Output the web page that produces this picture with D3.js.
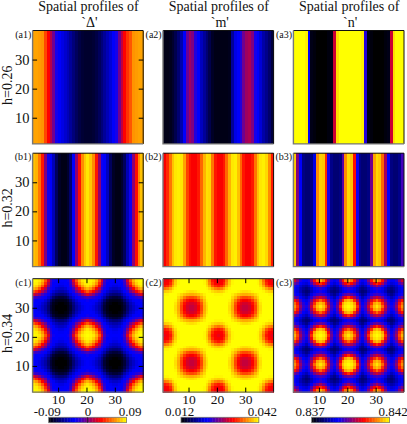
<!DOCTYPE html>
<html>
<head>
<meta charset="utf-8">
<script src="https://cdn.jsdelivr.net/npm/d3@7"></script>
<style>
html, body { margin: 0; background: #fff; }
svg { display: block; }
text { font-family: "Liberation Serif", "Times New Roman", serif; fill: #111; }
</style>
</head>
<body>
<svg width="407" height="424">
  <defs><filter id="soft" x="-2%" y="-2%" width="104%" height="104%"><feGaussianBlur stdDeviation="0.45"/></filter></defs>
</svg>
<script>
// colour levels, 0 = bottom of the colour bar, 100 = top
const a1Profile = [88,88,87,86,76,67,57,48,36,33,30,27,24,20,16,12,9,7,6,6,6,7,9,12,16,20,24,28,33,36,48,58,67,73,78,86,87,88,88];
const a2Profile = [3,3,4,6,10,15,22,33,47,54,50,38,33,25,20,15,10,5,3,3,3,3,3,4,20,30,34,38,48,54,56,50,36,33,28,22,18,14,8];
const a3Profile = [100,100,100,100,98,33,3,1,0,0,0,0,1,3,60,96,100,100,100,100,100,100,100,100,98,38,3,1,0,0,0,0,1,3,60,96,100,100,100];
const b1Profile = [92,90,82,70,50,35,33,24,12,5,3,3,6,14,33,52,68,85,93,97,93,85,70,52,35,33,25,12,5,3,3,6,12,24,35,52,68,85,92];
const b2Profile = [66,72,82,92,97,98,97,88,75,68,66,66,70,80,90,96,95,82,70,67,66,70,80,90,97,98,92,80,70,66,66,70,82,92,97,98,95,85,70];
const b3Profile = [93,50,34,17,15,15,17,30,85,94,93,72,36,18,15,15,17,45,85,95,92,68,35,18,15,15,17,48,88,95,93,80,55,33,17,15,15,18,42];

// one corner of the repeating pattern, the panels are mirror images of it
const c1Corner = [
  [100,99,97,90,78,62,42,35,33,33],
  [99,98,94,86,72,56,40,34,33,32],
  [97,94,88,78,66,50,38,33,32,30],
  [90,86,78,66,56,42,35,32,28,26],
  [78,72,66,56,48,37,33,28,24,22],
  [62,56,50,42,37,34,28,22,17,15],
  [42,40,38,35,33,28,22,14,9,7],
  [35,34,33,32,28,22,14,7,4,3],
  [33,33,32,28,24,17,9,4,1,0],
  [33,32,30,26,22,15,7,3,0,0]
];
const c2Corner = [
  [64,66,70,82,93,99,100,100,100,100],
  [66,67,72,84,94,99,100,100,100,100],
  [70,72,78,89,96,100,100,100,100,100],
  [82,84,89,95,99,100,100,100,100,100],
  [93,94,96,99,100,100,100,99,97,96],
  [99,99,100,100,100,98,95,92,90,89],
  [100,100,100,100,100,95,90,83,78,76],
  [100,100,100,100,99,92,83,74,68,66],
  [100,100,100,100,97,90,78,68,63,61],
  [100,100,100,100,96,89,76,66,61,59]
];
const c3Corner = [
  [60,50,38,34,32,36,50,68,82,90,82,68,50,36,32,36,50,68,82,90],
  [48,42,34,30,28,32,42,56,66,72,66,56,42,32,28,32,42,56,66,72],
  [38,34,28,24,22,26,34,42,48,55,48,42,34,26,22,26,34,42,48,55],
  [33,30,24,20,17,20,26,32,36,40,36,32,26,20,17,20,26,32,36,40],
  [33,30,24,18,15,17,24,30,34,36,34,30,24,17,15,18,24,30,34,36],
  [36,34,28,22,18,22,30,36,40,42,40,36,30,22,18,24,32,40,45,48],
  [48,42,34,28,24,30,38,48,55,60,55,48,38,30,24,32,42,55,65,72],
  [68,58,42,34,30,36,48,62,72,80,72,62,48,36,30,40,55,72,88,92],
  [80,68,48,38,34,40,55,72,88,92,88,72,55,40,34,45,65,88,96,98],
  [85,72,52,40,36,42,60,80,92,97,92,80,60,42,36,48,72,92,98,100],
  [80,68,48,38,34,40,55,72,88,92,88,72,55,40,34,45,65,88,96,98],
  [68,58,42,34,30,36,48,62,72,80,72,62,48,36,30,40,55,72,88,92],
  [48,42,34,28,24,30,38,48,55,60,55,48,38,30,24,32,42,55,65,72],
  [36,34,28,22,18,22,30,36,40,42,40,36,30,22,18,24,32,40,45,48],
  [33,30,24,18,15,17,24,30,34,36,34,30,24,17,15,18,24,30,34,36],
  [40,36,28,22,18,24,32,40,45,48,45,40,32,24,18,22,30,36,40,42],
  [52,46,36,30,24,32,42,55,65,72,65,55,42,32,24,30,38,48,55,60],
  [72,60,44,36,30,40,55,72,88,92,88,72,55,40,30,36,48,62,72,80],
  [85,72,50,40,34,45,65,88,96,98,96,88,65,45,34,40,55,72,88,92],
  [90,76,54,42,36,48,72,92,98,100,98,92,72,48,36,42,60,80,92,97]
];

const titles = ["`Δ'", "`m'", "`n'"];
const rowLabels = ["h=0.26", "h=0.32", "h=0.34"];
const panelLabels = [["(a1)","(a2)","(a3)"],["(b1)","(b2)","(b3)"],["(c1)","(c2)","(c3)"]];
const gridTicks = [10, 20, 30];
const barDomains = [[-0.09, 0.09], [0.012, 0.042], [0.837, 0.842]];
const barTicks = [["-0.09", "0", "0.09"], ["0.012", "0.042"], ["0.837", "0.842"]];

const nCells = 39;
const colX = [32.6, 163, 293.4];
const rowY = [30.5, 153.2, 278.7];
const panelW = 110.6, panelH = 113.4;
const barX = [48.7, 181, 311.7];
const barW = 77.8;

const fold39 = i => i <= 19 ? i : 38 - i;
const fold20 = i => i <= 9 ? i : 19 - i;
const stripes = p => (r, c) => p[c];
const fromSmall = t => (r, c) => t[fold20(fold39(r))][fold20(fold39(c))];
const fromLarge = t => (r, c) => t[fold39(r)][fold39(c)];

const panels = [
  [stripes(a1Profile), stripes(a2Profile), stripes(a3Profile)],
  [stripes(b1Profile), stripes(b2Profile), stripes(b3Profile)],
  [fromSmall(c1Corner), fromSmall(c2Corner), fromLarge(c3Corner)]
];

const color = d3.scaleLinear()
  .domain([0, 100 / 3, 200 / 3, 100])
  .range(["#000000", "#0000ff", "#ff0000", "#ffff00"]);

const svg = d3.select("svg");
const cells = d3.range(nCells);

colX.forEach((left, col) => {
  const cx = left + panelW / 2 + 0.5;
  svg.append("text").attr("x", cx).attr("y", 11).attr("text-anchor", "middle")
    .attr("font-size", 14).text("Spatial profiles of");
  svg.append("text").attr("x", cx + 1).attr("y", 27).attr("text-anchor", "middle")
    .attr("font-size", 14).text(titles[col]);
});

rowY.forEach((top, row) => {
  const bottom = top + panelH;
  svg.append("text")
    .attr("transform", `translate(11.5,${top + panelH / 2 - 2}) rotate(-90)`)
    .attr("text-anchor", "middle").attr("font-size", 14).text(rowLabels[row]);

  colX.forEach((left, col) => {
    const x = d3.scaleLinear().domain([1, 40]).range([left, left + panelW]);
    const y = d3.scaleLinear().domain([1, 40]).range([bottom, top]);
    const level = panels[row][col];
    const g = svg.append("g");
    const heat = g.append("g").attr("filter", "url(#soft)").attr("shape-rendering", "crispEdges");

    cells.forEach(r => {
      heat.selectAll(null).data(cells).join("rect")
        .attr("x", c => x(c + 1))
        .attr("y", y(40 - r))
        .attr("width", x(2) - x(1) + 0.4)
        .attr("height", y(1) - y(2) + 0.4)
        .attr("fill", c => color(level(r, c)));
    });

    g.append("path").attr("fill", "none").attr("stroke", "#111").attr("stroke-width", 1)
      .attr("d", `M${left},${top}H${left + panelW}V${bottom}`);
    g.append("path").attr("fill", "none").attr("stroke", "#777").attr("stroke-width", 1.4)
      .attr("d", `M${left},${top}V${bottom}H${left + panelW}`);

    svg.append("text").attr("x", left - 1.3).attr("y", top + 7)
      .attr("text-anchor", "end").attr("font-size", 10).text(panelLabels[row][col]);

    if (col === 0) {
      const yLeft = svg.append("g").attr("transform", `translate(${left},0)`)
        .call(d3.axisLeft(y).tickValues(gridTicks).tickSize(-4.5).tickPadding(3));
      yLeft.select(".domain").remove();
      yLeft.selectAll("text").attr("font-size", 14.5);
      const yRight = svg.append("g").attr("transform", `translate(${left + panelW},0)`)
        .call(d3.axisRight(y).tickValues(gridTicks).tickSize(-4.5).tickFormat(""));
      yRight.select(".domain").remove();
    }
    if (row === 2) {
      const xBottom = svg.append("g").attr("transform", `translate(0,${bottom})`)
        .call(d3.axisBottom(x).tickValues(gridTicks).tickSize(-4.5).tickPadding(2));
      xBottom.select(".domain").remove();
      xBottom.selectAll("text").attr("font-size", 13.5);
      const xTop = svg.append("g").attr("transform", `translate(0,${top})`)
        .call(d3.axisTop(x).tickValues(gridTicks).tickSize(-4.5).tickFormat(""));
      xTop.select(".domain").remove();
    }
  });
});

// colour bars
barX.forEach((left, col) => {
  const [lo, hi] = barDomains[col];
  const pos = d3.scaleLinear().domain([lo, hi]).range([left, left + barW]);
  const steps = d3.range(0, 100, 2);
  const top = 417.3, h = 5.4;
  const step = d3.scaleLinear().domain([0, 100]).range([left, left + barW]);
  svg.append("g").selectAll("rect").data(steps).join("rect")
    .attr("x", d => step(d))
    .attr("y", top)
    .attr("width", step(2) - step(0) + 0.4)
    .attr("height", h)
    .attr("fill", d => color(d + 1));
  svg.append("rect").attr("x", left).attr("y", top).attr("width", barW).attr("height", h)
    .attr("fill", "none").attr("stroke", "#777").attr("stroke-width", 0.8);

  const labels = barTicks[col];
  const values = labels.map(Number);
  const axis = svg.append("g").attr("transform", `translate(0,${top})`)
    .call(d3.axisTop(pos).tickValues(values).tickSize(0).tickPadding(1.5).tickFormat((d, i) => labels[i]));
  axis.select(".domain").remove();
  axis.selectAll("text")
    .attr("font-size", 13)
    .attr("dx", (d, i) => i === 0 ? -2 : (i === labels.length - 1 ? 3 : 0));
  if (labels.length === 3) {
    svg.append("line").attr("x1", pos(0)).attr("x2", pos(0)).attr("y1", top).attr("y2", top + h)
      .attr("stroke", "#222").attr("stroke-width", 0.8);
  }
});
</script>
</body>
</html>
